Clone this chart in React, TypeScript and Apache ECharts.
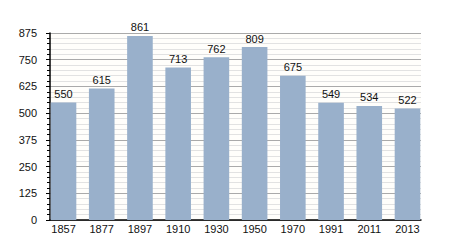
import React, { useEffect, useRef } from "react";
import * as echarts from "echarts";

const years = ["1857", "1877", "1897", "1910", "1930", "1950", "1970", "1991", "2011", "2013"];
const population = [550, 615, 861, 713, 762, 809, 675, 549, 534, 522];
const yMax = 875;
const yStep = 125;

export default function App() {
  const ref = useRef<HTMLDivElement>(null);
  useEffect(() => {
    const chart = echarts.init(ref.current!, null, { renderer: "svg" });
    chart.setOption({
      animation: false,
      backgroundColor: "#ffffff",
      textStyle: { fontFamily: "Liberation Sans, Arial, sans-serif" },
      grid: [
        { left: 50, right: 29, top: 33, bottom: 30, backgroundColor: "#fffefb", show: true, borderWidth: 0 },
        { left: 44.4, right: 23.4, top: 33, bottom: 30 },
      ],
      xAxis: [
        {
          type: "category",
          gridIndex: 0,
          data: years,
          axisLine: { lineStyle: { color: "#000", width: 1.5 } },
          axisTick: { show: false },
          axisLabel: { show: false },
          splitLine: { show: false },
        },
        {
          type: "category",
          gridIndex: 1,
          data: years,
          axisLine: { show: false },
          axisTick: { show: false },
          axisLabel: { color: "#111", fontSize: 11, margin: 3 },
          splitLine: { show: false },
        },
      ],
      yAxis: [
        {
          type: "value",
          gridIndex: 0,
          min: 0,
          max: yMax,
          interval: yStep,
          axisLine: { show: true, lineStyle: { color: "#000", width: 1.5 } },
          axisTick: { show: true, length: 4, lineStyle: { color: "#000" } },
          minorTick: { show: true, splitNumber: 5, length: 3, lineStyle: { color: "#000" } },
          splitLine: { lineStyle: { color: "#aaaaaa", width: 1 } },
          minorSplitLine: { show: true, lineStyle: { color: "#e2e2e2", width: 1 } },
          axisLabel: { color: "#111", fontSize: 11, margin: 13 },
        },
        {
          type: "value",
          gridIndex: 1,
          min: 0,
          max: yMax,
          interval: yStep,
          show: false,
          splitLine: { show: false },
        },
      ],
      series: [
        {
          type: "bar",
          xAxisIndex: 1,
          yAxisIndex: 1,
          data: population,
          barWidth: "67%",
          itemStyle: { color: "#99b0cb" },
          label: { show: true, position: "top", color: "#111", fontSize: 11, distance: 3 },
          z: 10,
        },
      ],
    });
    return () => chart.dispose();
  }, []);
  return <div ref={ref} style={{ width: 450, height: 250, position: "absolute", left: 0, top: 0 }} />;
}
